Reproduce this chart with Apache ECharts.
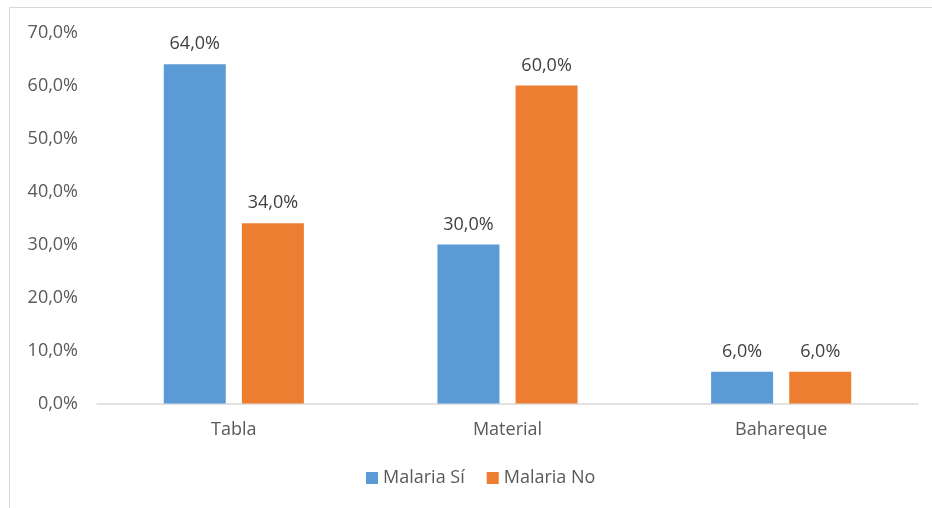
<!DOCTYPE html>
<html>
<head>
<meta charset="utf-8">
<script src="https://cdn.jsdelivr.net/npm/echarts@6/dist/echarts.min.js"></script>
<style>
html,body{margin:0;padding:0;background:#fff;}
#frame{position:absolute;left:9px;top:7px;width:940px;height:520px;border:1.5px solid #d9d9d9;box-sizing:border-box;}
#chart{position:absolute;left:0;top:0;width:932px;height:508px;}
</style>
</head>
<body>
<div id="frame"></div>
<div id="chart"></div>
<script>
const categories = ['Tabla', 'Material', 'Bahareque'];
const seriesNames = ['Malaria Sí', 'Malaria No'];
const malariaSi = [64, 30, 6];
const malariaNo = [34, 60, 6];
const colors = ['#5b9bd5', '#ed7d31'];
const fontFam = '"Open Sans", "Noto Sans", sans-serif';
const fmt = v => v.toFixed(1).replace('.', ',') + '%';

const chart = echarts.init(document.getElementById('chart'), null, {renderer: 'canvas'});
chart.setOption({
  animation: false,
  backgroundColor: 'transparent',
  grid: {left: 97, right: 14, top: 32.4, bottom: 104.5, containLabel: false},
  legend: {
    data: seriesNames,
    bottom: 16,
    left: 361,
    itemWidth: 12,
    itemHeight: 12,
    itemGap: 22,
    icon: 'rect',
    textStyle: {color: '#595959', fontSize: 18, fontFamily: fontFam}
  },
  xAxis: {
    type: 'category',
    data: categories,
    axisLine: {lineStyle: {color: '#d9d9d9', width: 1.5}},
    axisTick: {show: false},
    axisLabel: {color: '#595959', fontSize: 18, fontFamily: fontFam, margin: 17}
  },
  yAxis: {
    type: 'value',
    min: 0, max: 70, interval: 10,
    splitLine: {show: false},
    axisLine: {show: false},
    axisTick: {show: false},
    axisLabel: {color: '#595959', fontSize: 18, fontFamily: fontFam, margin: 19, formatter: v => fmt(v)}
  },
  series: [
    {name: seriesNames[0], type: 'bar', data: malariaSi, barWidth: 62, barGap: '26%',
     itemStyle: {color: colors[0]},
     label: {show: true, position: 'top', distance: 11, color: '#404040', fontSize: 18, fontFamily: fontFam, formatter: p => fmt(p.value)}},
    {name: seriesNames[1], type: 'bar', data: malariaNo, barWidth: 62, barGap: '26%',
     itemStyle: {color: colors[1]},
     label: {show: true, position: 'top', distance: 11, color: '#404040', fontSize: 18, fontFamily: fontFam, formatter: p => fmt(p.value)}}
  ]
});
</script>
</body>
</html>
